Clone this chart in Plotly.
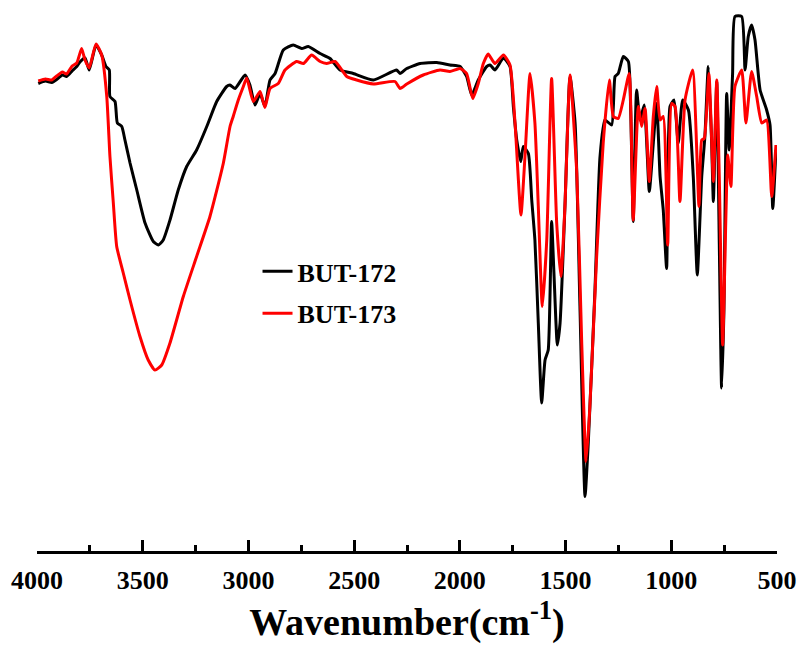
import plotly.graph_objects as go

# ---- data (wavenumber cm^-1, transmittance in arbitrary units) ----
wn_172 = [3994, 3960, 3930, 3907, 3880, 3860, 3834, 3812, 3797, 3773, 3753, 3721, 3694, 3674, 3658, 3655, 3631, 3620,
          3599, 3584, 3560, 3528, 3489, 3450, 3426, 3403, 3371, 3332, 3292, 3245, 3197, 3150,
          3103, 3087, 3063, 3016, 2993, 2969, 2945, 2922, 2898, 2874, 2835, 2788, 2748, 2717,
          2661, 2614, 2567, 2504, 2409, 2299, 2283, 2251, 2188, 2109, 2047, 1999, 1968, 1944,
          1913, 1873, 1857, 1834, 1794, 1763, 1747, 1731, 1712, 1700, 1676, 1660, 1645, 1629,
          1613, 1597, 1582, 1566, 1555, 1539, 1526, 1503, 1479, 1455, 1432, 1408, 1392, 1361,
          1337, 1314, 1282, 1266, 1251, 1227, 1203, 1192, 1180, 1164, 1148, 1128, 1104, 1085,
          1069, 1053, 1038, 1022, 1006, 987, 967, 946, 919, 896, 877, 856, 841, 825, 809, 801,
          785, 773, 762, 751, 738, 726, 710, 699, 667, 651, 636, 620, 604, 580, 549, 533, 520, 505]
t_172 = [93.1, 93.6, 93.3, 93.9, 94.8, 94.5, 95.6, 96.5, 97.4, 98.2, 95.8, 100.8, 98.8, 96.5, 95.8, 90.5, 89.5, 85.2,
         84.5, 81.8, 77.2, 71.8, 65.2, 61.5, 60.8, 61.8, 65.8, 71.8, 76.5, 79.8, 84.5, 89.5,
         92.5, 92.8, 92.1, 94.8, 92.8, 88.8, 91.1, 88.5, 93.8, 95.1, 99.8, 100.8, 100.1, 100.5,
         99.1, 98.1, 95.8, 95.1, 93.8, 95.8, 95.1, 96.1, 97.1, 97.3, 96.8, 96.5, 94.5, 90.8,
         93.8, 96.5, 96.8, 95.8, 98.2, 96.5, 88.5, 81.8, 77.5, 80.5, 79.1, 69.8, 61.8, 45.2,
         29.2, 37.8, 39.8, 65.5, 55.2, 40.8, 45.2, 68.5, 94.5, 85.2, 48.5, 10.5, 21.8, 51.8,
         78.5, 85.8, 84.8, 94.5, 95.1, 98.5, 97.5, 87.8, 65.5, 91.8, 85.8, 88.8, 71.5, 81.2,
         89.1, 74.5, 67.8, 56.1, 88.5, 89.8, 81.2, 89.8, 87.8, 74.5, 54.8, 74.5, 82.5, 96.5, 81.2, 69.5,
         93.5, 61.2, 32.2, 47.8, 91.1, 79.8, 95.1, 106.5, 106.5, 95.8, 102.5, 104.8, 101.8, 91.8, 87.8, 84.8, 68.1, 79.8]

wn_173 = [3994, 3960, 3930, 3907, 3880, 3860, 3834, 3812, 3789, 3773, 3753, 3721, 3694, 3670, 3655, 3639, 3623, 3592,
          3560, 3513, 3474, 3442, 3410, 3371, 3308, 3245, 3182, 3119, 3087, 3072, 3048, 3024,
          3008, 2977, 2945, 2922, 2898, 2859, 2827, 2772, 2740, 2701, 2661, 2630, 2590, 2535,
          2488, 2409, 2307, 2283, 2251, 2173, 2094, 2047, 1999, 1968, 1939, 1913, 1889, 1866,
          1834, 1794, 1763, 1739, 1711, 1692, 1668, 1645, 1629, 1610, 1589, 1566, 1542, 1522,
          1503, 1479, 1447, 1424, 1403, 1385, 1353, 1322, 1293, 1274, 1251, 1227, 1199, 1180,
          1156, 1140, 1124, 1104, 1085, 1069, 1053, 1038, 1017, 998, 982, 959, 935, 899, 869,
          856, 844, 822, 801, 785, 773, 757, 741, 733, 718, 699, 667, 647, 620, 596, 572, 549, 525, 505]
t_173 = [93.6, 94.0, 93.8, 94.6, 95.4, 95.0, 96.6, 97.2, 100.1, 97.8, 96.2, 101.0, 98.8, 90.5, 78.5, 69.2, 60.5, 55.2,
         49.8, 42.5, 37.8, 35.8, 36.8, 41.2, 50.5, 58.5, 66.5, 77.1, 84.5, 86.5, 89.8, 92.5,
         94.2, 89.5, 91.5, 88.3, 92.1, 93.1, 95.8, 97.5, 97.1, 98.8, 97.5, 97.1, 97.5, 94.5,
         93.8, 93.0, 93.5, 92.1, 93.0, 94.8, 95.8, 95.5, 96.1, 95.1, 90.1, 93.1, 97.1, 99.0,
         97.1, 98.8, 96.8, 85.2, 66.8, 78.5, 95.1, 85.2, 68.5, 48.5, 61.8, 94.1, 65.2, 54.5,
         68.5, 94.8, 75.2, 41.8, 17.5, 28.5, 58.5, 81.2, 93.8, 86.5, 86.1, 89.8, 95.1, 65.8,
         88.5, 84.5, 88.1, 73.5, 86.5, 92.5, 85.8, 86.5, 60.8, 89.1, 88.5, 69.5, 89.8, 95.8, 68.5,
         81.8, 82.1, 95.1, 73.5, 93.8, 74.5, 40.8, 67.8, 78.8, 72.5, 92.5, 95.8, 85.2, 95.5, 90.5, 85.2, 85.8, 70.5, 80.8]

names = ["BUT-172", "BUT-173"]
colors = ["#000000", "#ff0000"]
xticks = [4000, 3500, 3000, 2500, 2000, 1500, 1000, 500]

FONT = "Liberation Serif"

fig = go.Figure()
for i, (x, y) in enumerate([(wn_172, t_172), (wn_173, t_173)]):
    fig.add_trace(go.Scatter(
        x=x, y=y, mode="lines", name=names[i], legendgroup=names[i],
        line=dict(color=colors[i], width=3, shape="spline", smoothing=0.5),
    ))

fig.update_layout(
    width=801, height=646,
    margin=dict(l=37, r=24, t=5, b=95),
    plot_bgcolor="white", paper_bgcolor="white",
    font=dict(family=FONT, color="black"),
    showlegend=True,
    legend=dict(
        x=0.298, y=0.555, xanchor="left", yanchor="top",
        font=dict(family=FONT, size=26, weight="bold", color="black"),
        bgcolor="rgba(0,0,0,0)", borderwidth=0, tracegroupgap=5,
    ),
)

fig.update_xaxes(
    range=[4000, 500], autorange=False,
    tickmode="array", tickvals=xticks, ticktext=[str(v) for v in xticks],
    showline=True, linecolor="black", linewidth=2.5, mirror=False,
    ticks="inside", ticklen=11, tickwidth=2.5, tickcolor="black",
    minor=dict(dtick=250, tick0=500, ticks="inside", ticklen=6, tickwidth=2.5, tickcolor="black", showgrid=False),
    showgrid=False, zeroline=False,
    tickfont=dict(family=FONT, size=26, weight="bold", color="black"),
    ticklabelstandoff=4,
    title=dict(text="Wavenumber(cm<sup>-1</sup>)", standoff=8,
               font=dict(family=FONT, size=38, weight="bold", color="black")),
)
fig.update_yaxes(range=[-0.4, 108.8], visible=False, showgrid=False, zeroline=False)

fig.write_html("out.html")
